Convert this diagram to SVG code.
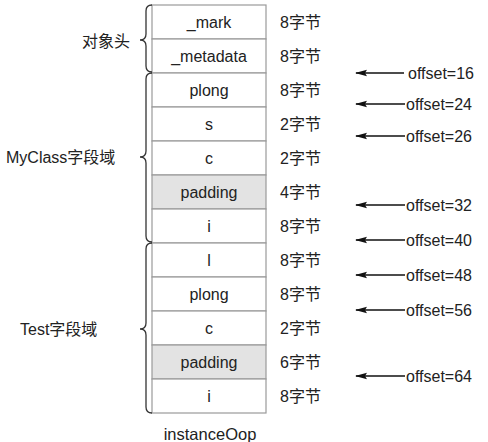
<svg xmlns="http://www.w3.org/2000/svg" width="488" height="442" viewBox="0 0 488 442">
<style>
text{font-family:"Liberation Sans","Noto Sans CJK SC",sans-serif;font-size:16px;fill:#222}
.c{text-anchor:middle}
.cell{fill:#fff;stroke:#9a9a9a;stroke-width:1.2}
.pad{fill:#e3e3e3;stroke:#9a9a9a;stroke-width:1.2}
.brace{fill:none;stroke:#333;stroke-width:1.3}
.arr{stroke:#111;stroke-width:1.4;fill:none}
</style>
<defs>
<marker id="ah" viewBox="0 0 12 8" refX="11" refY="4" markerWidth="12" markerHeight="8" markerUnits="userSpaceOnUse" orient="auto">
<path d="M0 0.8 L12 4 L0 7.2 L2 4 Z" fill="#111"/>
</marker>
</defs>
<rect width="488" height="442" fill="#fff"/>
<g id="rows">
<g id="r1"><rect class="cell" x="152" y="5" width="114" height="34"/><text class="c" x="209" y="27.5">_mark</text><text x="280" y="27.5">8字节</text></g>
<g id="r2"><rect class="cell" x="152" y="39" width="114" height="34"/><text class="c" x="209" y="61.5">_metadata</text><text x="280" y="61.5">8字节</text></g>
<g id="r3"><rect class="cell" x="152" y="73" width="114" height="34"/><text class="c" x="209" y="95.5">plong</text><text x="280" y="95.5">8字节</text></g>
<g id="r4"><rect class="cell" x="152" y="107" width="114" height="34"/><text class="c" x="209" y="129.5">s</text><text x="280" y="129.5">2字节</text></g>
<g id="r5"><rect class="cell" x="152" y="141" width="114" height="34"/><text class="c" x="209" y="163.5">c</text><text x="280" y="163.5">2字节</text></g>
<g id="r6"><rect class="pad" x="152" y="175" width="114" height="34"/><text class="c" x="209" y="197.5">padding</text><text x="280" y="197.5">4字节</text></g>
<g id="r7"><rect class="cell" x="152" y="209" width="114" height="34"/><text class="c" x="209" y="231.5">i</text><text x="280" y="231.5">8字节</text></g>
<g id="r8"><rect class="cell" x="152" y="243" width="114" height="34"/><text class="c" x="209" y="265.5">l</text><text x="280" y="265.5">8字节</text></g>
<g id="r9"><rect class="cell" x="152" y="277" width="114" height="34"/><text class="c" x="209" y="299.5">plong</text><text x="280" y="299.5">8字节</text></g>
<g id="r10"><rect class="cell" x="152" y="311" width="114" height="34"/><text class="c" x="209" y="333.5">c</text><text x="280" y="333.5">2字节</text></g>
<g id="r11"><rect class="pad" x="152" y="345" width="114" height="34"/><text class="c" x="209" y="367.5">padding</text><text x="280" y="367.5">6字节</text></g>
<g id="r12"><rect class="cell" x="152" y="379" width="114" height="34"/><text class="c" x="209" y="401.5">i</text><text x="280" y="401.5">8字节</text></g>
</g>
<text id="caption" class="c" x="210" y="440" style="font-size:16.5px">instanceOop</text>
<g id="groups">
<g id="header"><path class="brace" d="M152 5 Q146 5 146 11 L146 34 Q146 40 140 40 Q146 40 146 46 L146 66 Q146 72 152 72"/><text x="130" y="47" style="text-anchor:end">对象头</text></g>
<g id="myclass"><path class="brace" d="M152 73 Q146 73 146 79 L146 151 Q146 157 140 157 Q146 157 146 163 L146 236 Q146 242 152 242"/><text x="6" y="163">MyClass字段域</text></g>
<g id="test"><path class="brace" d="M152 243 Q146 243 146 249 L146 323 Q146 329 140 329 Q146 329 146 335 L146 407 Q146 413 152 413"/><text x="20" y="335">Test字段域</text></g>
</g>
<g id="connectors">
<line class="arr" x1="404" y1="73" x2="356" y2="73" marker-end="url(#ah)"/>
<line class="arr" x1="405" y1="104" x2="356" y2="104" marker-end="url(#ah)"/>
<line class="arr" x1="405" y1="136" x2="356" y2="136" marker-end="url(#ah)"/>
<line class="arr" x1="405" y1="205" x2="356" y2="205" marker-end="url(#ah)"/>
<line class="arr" x1="405" y1="240" x2="356" y2="240" marker-end="url(#ah)"/>
<line class="arr" x1="405" y1="275" x2="356" y2="275" marker-end="url(#ah)"/>
<line class="arr" x1="405" y1="310" x2="356" y2="310" marker-end="url(#ah)"/>
<line class="arr" x1="405" y1="376" x2="356" y2="376" marker-end="url(#ah)"/>
</g>
<g id="offsets">
<text x="408" y="79">offset=16</text>
<text x="406" y="110">offset=24</text>
<text x="406" y="142">offset=26</text>
<text x="406" y="211">offset=32</text>
<text x="406" y="246">offset=40</text>
<text x="406" y="281">offset=48</text>
<text x="406" y="316">offset=56</text>
<text x="406" y="382">offset=64</text>
</g>
</svg>
